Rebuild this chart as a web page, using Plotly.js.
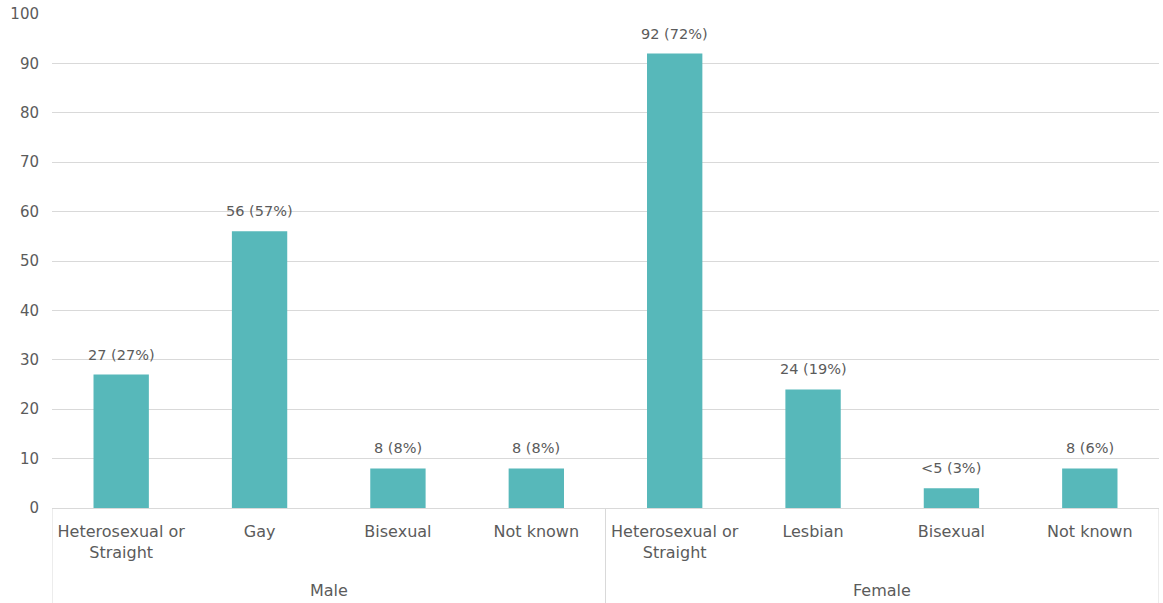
<!DOCTYPE html>
<html>
<head>
<meta charset="utf-8">
<script src="https://cdn.plot.ly/plotly-3.0.1.min.js"></script>
<style>
  html, body { margin: 0; padding: 0; background: #ffffff; }
  #chart { width: 1163px; height: 603px; }
</style>
</head>
<body>
<div id="chart"></div>
<script>
// Sex of respondents (outer group) and sexual orientation (inner category)
const sexGroups = ["Male", "Male", "Male", "Male", "Female", "Female", "Female", "Female"];
const orientations = [
  "Heterosexual or<br>Straight", "Gay", "Bisexual", "Not known",
  "Heterosexual or<br>Straight", "Lesbian", "Bisexual", "Not known"
];
const counts = [27, 56, 8, 8, 92, 24, 4, 8];
const countLabels = ["27 (27%)", "56 (57%)", "8 (8%)", "8 (8%)", "92 (72%)", "24 (19%)", "&lt;5 (3%)", "8 (6%)"];
const yTicks = [0, 10, 20, 30, 40, 50, 60, 70, 80, 90, 100];

const textColor = "#5b5b5b";
const lineColor = "#d9d9d9";
const fontFamily = "'DejaVu Sans', sans-serif";

// one slot per bar along the x axis
const slots = orientations.map((_, i) => i);

const bars = {
  type: "bar",
  x: slots,
  y: counts,
  marker: { color: "#57B8BA" },
  hoverinfo: "skip"
};

// value labels sit above each bar
const annotations = counts.map((v, i) => ({
  x: slots[i],
  y: v,
  xref: "x",
  yref: "y",
  text: countLabels[i],
  showarrow: false,
  yanchor: "bottom",
  yshift: 10,
  font: { family: fontFamily, size: 14.5, color: textColor }
}));

// outer group labels and the divider lines between groups
const shapes = [];
const groupNames = [...new Set(sexGroups)];
groupNames.forEach((g, gi) => {
  const idx = slots.filter(i => sexGroups[i] === g);
  const lo = Math.min(...idx) - 0.5;
  const hi = Math.max(...idx) + 0.5;
  annotations.push({
    x: (lo + hi) / 2,
    y: -0.166,
    xref: "x",
    yref: "paper",
    text: g,
    showarrow: false,
    yanchor: "middle",
    font: { family: fontFamily, size: 16, color: textColor }
  });
  const edges = gi === 0 ? [lo, hi] : [hi];
  edges.forEach(e => shapes.push({
    type: "line",
    xref: "x",
    yref: "paper",
    x0: e, x1: e,
    y0: 0, y1: -0.2,
    line: { color: lineColor, width: 1 }
  }));
});

const layout = {
  width: 1163,
  height: 603,
  margin: { l: 52, r: 4, t: 14, b: 95 },
  paper_bgcolor: "#ffffff",
  plot_bgcolor: "#ffffff",
  bargap: 0.6,
  showlegend: false,
  font: { family: fontFamily, size: 14, color: textColor },
  xaxis: {
    range: [-0.5, slots.length - 0.5],
    tickvals: slots,
    ticktext: orientations,
    showgrid: false,
    zeroline: false,
    showline: true,
    linecolor: lineColor,
    linewidth: 1,
    ticks: "",
    ticklabelstandoff: 9,
    tickfont: { family: fontFamily, size: 16, color: textColor }
  },
  yaxis: {
    range: [0, 100],
    tickvals: yTicks,
    showgrid: true,
    gridcolor: lineColor,
    gridwidth: 1,
    zeroline: false,
    showline: false,
    ticks: "",
    ticklabelstandoff: 12,
    tickfont: { family: fontFamily, size: 15, color: textColor }
  },
  annotations: annotations,
  shapes: shapes
};

Plotly.newPlot("chart", [bars], layout, { staticPlot: true, displayModeBar: false });
</script>
</body>
</html>
